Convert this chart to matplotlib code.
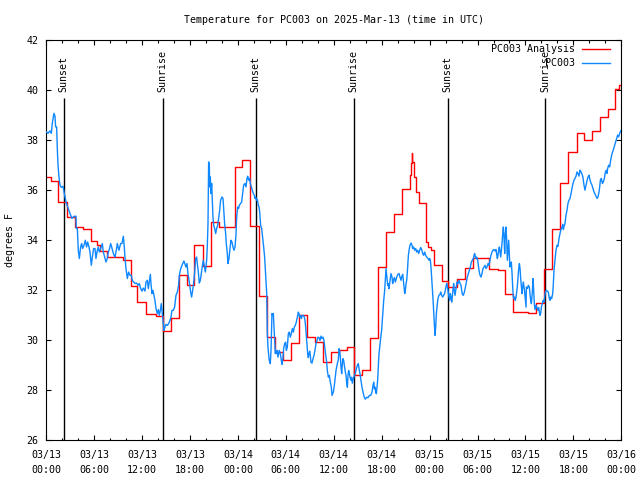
import numpy as np
import matplotlib
matplotlib.use("Agg")
import matplotlib.pyplot as plt

# all times are hours since 2025-03-13 00:00 UTC

# gridded analysis (step values)
anl_hours = [0.0, 0.63, 1.5, 2.55, 3.6, 4.64, 5.56, 6.3, 6.7, 7.6,
             9.6, 10.65, 11.4, 12.5, 13.7, 14.6, 15.6, 16.65, 17.65, 18.5,
             19.6, 20.6, 21.6, 23.6, 24.5, 25.55, 26.6, 27.6, 28.6, 29.6,
             30.6, 31.6, 32.6, 33.6, 34.6, 35.6, 36.6, 37.6, 38.5, 39.55,
             40.55, 41.5, 42.55, 43.6, 44.55, 45.5, 45.65, 45.75, 45.85, 46.0,
             46.3, 46.7, 47.5, 47.75, 48.2, 48.6, 49.5, 50.34, 51.42, 52.42,
             53.42, 55.38, 56.5, 57.42, 58.42, 60.3, 61.38, 62.3, 63.34, 64.38,
             65.34, 66.39, 67.39, 68.39, 69.39, 70.35, 71.27, 71.7]
anl_temps = [36.49, 36.34, 35.49, 34.91, 34.51, 34.42, 33.94, 33.78, 33.54, 33.31,
             33.21, 32.14, 31.53, 31.05, 30.94, 30.34, 30.89, 32.61, 32.18, 33.81,
             32.95, 34.69, 34.51, 36.91, 37.17, 34.54, 31.77, 30.10, 29.50, 29.18,
             29.86, 30.98, 30.12, 29.92, 29.11, 29.50, 29.61, 29.70, 28.58, 28.78,
             30.06, 32.90, 34.31, 35.03, 36.01, 36.60, 37.05, 37.45, 37.10, 36.50,
             35.90, 35.47, 33.90, 33.72, 33.60, 33.01, 32.37, 32.10, 32.42, 32.87,
             33.27, 32.85, 32.80, 31.85, 31.12, 31.08, 31.48, 32.85, 34.41, 36.27,
             37.49, 38.25, 37.98, 38.35, 38.89, 39.21, 40.01, 40.18]

# station observations
obs_hours = [
    # 03/13 00-12
    0.0, 0.05, 0.21, 0.46, 0.63, 0.76, 0.96, 1.09, 1.17, 1.3,
    1.38, 1.47, 1.59, 1.72, 1.88, 2.09, 2.3, 2.51, 2.72, 2.97,
    3.22, 3.38, 3.55, 3.72, 3.76, 3.89, 4.01, 4.14, 4.3, 4.43,
    4.55, 4.72, 4.89, 5.05, 5.18, 5.35, 5.47, 5.64, 5.77, 5.93,
    6.1, 6.22, 6.39, 6.51, 6.64, 6.81, 7.02, 7.14, 7.31, 7.48,
    7.64, 7.77, 7.93, 8.06, 8.19, 8.35, 8.48, 8.6, 8.77, 8.89,
    9.1, 9.31, 9.48, 9.65, 9.77, 9.85, 9.98, 10.15, 10.31, 10.48,
    10.65, 10.77, 10.94, 11.15, 11.32, 11.48, 11.65, 11.82, 11.98,
    # 03/13 12-24
    12.15, 12.36, 12.48, 12.65, 12.78, 12.9, 13.03, 13.11, 13.24, 13.36,
    13.49, 13.61, 13.74, 13.9, 14.03, 14.15, 14.28, 14.4, 14.49, 14.57,
    14.65, 14.74, 14.86, 14.99, 15.16, 15.32, 15.49, 15.61, 15.74, 15.91,
    16.07, 16.24, 16.41, 16.57, 16.66, 16.78, 16.91, 17.08, 17.24, 17.37,
    17.49, 17.62, 17.74, 17.87, 18.0, 18.08, 18.2, 18.33, 18.45, 18.58,
    18.7, 18.83, 18.91, 19.04, 19.16, 19.29, 19.41, 19.54, 19.66, 19.79,
    19.91, 20.0, 20.08, 20.16, 20.25, 20.29, 20.33, 20.42, 20.46, 20.54,
    20.62, 20.71, 20.79, 20.87, 20.96, 21.08, 21.21, 21.33, 21.46, 21.58,
    21.71, 21.83, 22.0, 22.13, 22.21, 22.33, 22.46, 22.54, 22.67, 22.75,
    22.88, 23.0, 23.13, 23.25, 23.38, 23.5, 23.63,
    # 03/14 00-12
    23.75, 23.84, 23.96, 24.09, 24.17, 24.34, 24.46, 24.59, 24.71, 24.88,
    25.01, 25.13, 25.22, 25.34, 25.47, 25.55, 25.67, 25.8, 25.92, 26.05,
    26.13, 26.22, 26.3, 26.43, 26.55, 26.64, 26.72, 26.84, 26.97, 27.09,
    27.22, 27.34, 27.43, 27.51, 27.6, 27.64, 27.68, 27.76, 27.89, 27.97,
    28.05, 28.14, 28.22, 28.26, 28.35, 28.43, 28.51, 28.6, 28.68, 28.76,
    28.85, 28.93, 29.01, 29.1, 29.18, 29.31, 29.43, 29.52, 29.64, 29.72,
    29.85, 29.97, 30.06, 30.18, 30.31, 30.43, 30.56, 30.68, 30.81, 30.93,
    31.06, 31.18, 31.31, 31.43, 31.56, 31.64, 31.73, 31.81, 31.94, 32.06,
    32.19, 32.31, 32.39, 32.48, 32.56, 32.64, 32.73, 32.81, 32.89, 32.98,
    33.06, 33.14, 33.27, 33.4, 33.52, 33.64, 33.77, 33.9, 34.02, 34.15,
    34.27, 34.4, 34.52, 34.65, 34.77, 34.86, 34.94, 35.02, 35.11, 35.19,
    35.32, 35.44, 35.57, 35.69, 35.78,
    # 03/14 12-24
    35.94, 36.07, 36.19, 36.28, 36.44, 36.57, 36.65, 36.74, 36.82, 36.9,
    36.99, 37.07, 37.15, 37.24, 37.32, 37.45, 37.53, 37.61, 37.7, 37.78,
    37.86, 37.95, 38.03, 38.15, 38.24, 38.32, 38.45, 38.57, 38.7, 38.82,
    38.95, 39.07, 39.2, 39.28, 39.41, 39.53, 39.66, 39.78, 39.95, 40.12,
    40.28, 40.45, 40.62, 40.78, 40.91, 41.0, 41.08, 41.16, 41.24, 41.33,
    41.41, 41.49, 41.58, 41.66, 41.79, 41.91, 41.99, 42.08, 42.16, 42.25,
    42.37, 42.45, 42.54, 42.62, 42.75, 42.83, 42.91, 43.04, 43.16, 43.29,
    43.37, 43.46, 43.58, 43.71, 43.87, 44.04, 44.17, 44.29, 44.42, 44.5,
    44.63, 44.71, 44.79, 44.88, 44.96, 45.05, 45.13, 45.21, 45.34, 45.46,
    45.55, 45.67, 45.8, 45.88, 46.0, 46.13, 46.25, 46.38, 46.5, 46.63,
    46.75, 46.88, 47.0, 47.13, 47.25, 47.38, 47.5, 47.63,
    # 03/15 00-12
    47.8, 47.92, 48.0, 48.09, 48.17, 48.25, 48.34, 48.42, 48.5, 48.59,
    48.67, 48.76, 48.84, 48.92, 49.01, 49.09, 49.17, 49.3, 49.38, 49.51,
    49.63, 49.76, 49.88, 50.01, 50.13, 50.22, 50.3, 50.38, 50.51, 50.59,
    50.68, 50.76, 50.84, 50.93, 51.01, 51.09, 51.18, 51.3, 51.43, 51.55,
    51.68, 51.81, 51.93, 52.01, 52.1, 52.22, 52.35, 52.47, 52.6, 52.72,
    52.85, 52.97, 53.1, 53.22, 53.35, 53.47, 53.56, 53.64, 53.73, 53.81,
    53.89, 54.02, 54.1, 54.18, 54.31, 54.43, 54.56, 54.68, 54.81, 54.93,
    55.06, 55.18, 55.31, 55.43, 55.56, 55.68, 55.81, 55.93, 56.06, 56.19,
    56.31, 56.39, 56.48, 56.56, 56.64, 56.73, 56.81, 56.9, 56.98, 57.06,
    57.15, 57.23, 57.31, 57.4, 57.48, 57.56, 57.65, 57.73, 57.81, 57.9,
    57.98, 58.06, 58.15, 58.23, 58.32, 58.4, 58.48, 58.57, 58.65, 58.73,
    58.82, 58.9, 58.99, 59.07, 59.15, 59.24, 59.32, 59.4, 59.49, 59.57,
    59.65, 59.74, 59.82, 59.9, 59.99, 60.07,
    # 03/15 12-24
    60.11, 60.23, 60.36, 60.48, 60.57, 60.65, 60.74, 60.86, 60.94, 61.03,
    61.11, 61.19, 61.32, 61.4, 61.49, 61.57, 61.65, 61.74, 61.82, 61.9,
    61.99, 62.11, 62.2, 62.32, 62.41, 62.49, 62.61, 62.74, 62.86, 62.99,
    63.07, 63.16, 63.28, 63.41, 63.49, 63.57, 63.69, 63.82, 63.95, 64.07,
    64.2, 64.32, 64.45, 64.57, 64.66, 64.74, 64.82, 64.95, 65.07, 65.2,
    65.32, 65.45, 65.58, 65.7, 65.83, 65.95, 66.08, 66.2, 66.33, 66.45,
    66.58, 66.7, 66.83, 66.95, 67.08, 67.2, 67.33, 67.45, 67.58, 67.7,
    67.83, 67.95, 68.08, 68.2, 68.33, 68.45, 68.58, 68.71, 68.83, 68.96,
    69.08, 69.21, 69.29, 69.38, 69.5, 69.63, 69.75, 69.88, 70.0, 70.13,
    70.21, 70.29, 70.42, 70.54, 70.67, 70.79, 70.92, 71.05, 71.17, 71.29,
    71.42, 71.54, 71.67, 71.79, 71.92, 72.0,
]
obs_temps = [
    # 03/13 00-12
    38.30, 38.31, 38.25, 38.35, 38.25, 38.67, 39.05, 38.94, 38.51, 38.51,
    37.65, 36.98, 36.51, 36.18, 36.09, 36.14, 35.78, 35.47, 35.27, 35.05,
    34.85, 34.91, 34.94, 34.94, 34.45, 34.45, 33.58, 33.25, 33.71, 33.85,
    33.65, 33.78, 33.98, 33.71, 33.91, 33.71, 33.51, 32.98, 33.31, 33.65,
    33.65, 33.25, 33.58, 33.71, 33.51, 33.65, 33.85, 33.51, 33.31, 33.11,
    33.25, 33.51, 33.65, 33.85, 33.71, 33.51, 33.38, 33.31, 33.58, 33.85,
    33.58, 33.85, 33.85, 34.14, 33.71, 33.31, 32.85, 32.45, 32.71, 32.58,
    32.58, 32.38, 32.31, 32.25, 32.27, 32.18, 32.25, 32.05, 31.95,
    # 03/13 12-24
    32.07, 31.95, 32.31, 32.38, 32.05, 32.31, 32.62, 32.25, 31.85, 31.98,
    31.78, 31.58, 31.25, 31.05, 31.21, 30.98, 31.18, 31.45, 31.15, 30.85,
    30.65, 30.38, 30.51, 30.62, 30.58, 30.65, 30.78, 30.91, 31.18, 31.18,
    31.31, 31.78, 31.91, 32.18, 32.58, 32.78, 32.91, 33.05, 33.15, 33.02,
    32.91, 33.05, 32.65, 32.38, 32.11, 31.91, 31.71, 31.98, 32.27, 32.71,
    33.25, 33.31, 33.05, 32.71, 32.27, 32.38, 32.65, 32.95, 33.18, 32.95,
    32.71, 32.91, 33.18, 33.71, 34.65, 35.98, 37.11, 36.91, 36.11, 36.51,
    35.85, 36.25, 35.58, 34.91, 34.58, 34.45, 34.25, 34.45, 34.58, 34.85,
    35.18, 35.58, 35.71, 35.65, 35.25, 34.65, 34.25, 33.85, 33.45, 33.05,
    33.25, 33.65, 33.98, 33.91, 33.71, 33.58, 33.71,
    # 03/14 00-12
    34.18, 34.91, 35.31, 35.25, 35.38, 35.45, 35.51, 35.85, 36.18, 36.25,
    36.11, 36.45, 36.54, 36.38, 36.45, 36.25, 36.11, 35.98, 35.85, 35.78,
    35.65, 35.71, 35.58, 35.61, 35.38, 35.31, 35.11, 34.58, 34.45, 34.11,
    33.71, 33.31, 32.78, 32.38, 31.85, 30.91, 30.25, 29.71, 29.25, 29.11,
    29.05, 29.58, 30.51, 31.05, 30.98, 31.05, 30.51, 29.98, 29.45, 29.58,
    29.45, 29.58, 29.31, 29.45, 29.58, 29.45, 29.18, 29.02, 29.31, 29.65,
    29.85, 29.91, 29.58, 29.71, 30.25, 30.31, 30.11, 30.25, 30.45, 30.31,
    30.51, 30.58, 30.71, 30.91, 31.11, 31.05, 30.91, 30.98, 30.85, 30.98,
    30.98, 30.91, 30.78, 30.51, 30.18, 29.85, 29.45, 29.29, 29.45, 29.55,
    29.38, 29.11, 29.07, 29.25, 29.38, 29.58, 29.85, 29.98, 30.11, 30.09,
    29.98, 30.15, 30.05, 30.11, 29.98, 29.71, 29.51, 29.31, 29.11, 28.78,
    28.51, 28.58, 28.31, 28.11, 27.78,
    # 03/14 12-24
    27.91, 28.18, 28.51, 28.78, 29.05, 29.21, 29.65, 29.58, 29.31, 28.91,
    28.65, 29.05, 29.25, 29.18, 28.98, 28.71, 28.58, 28.31, 28.11, 28.58,
    28.78, 28.65, 28.51, 28.38, 28.51, 28.27, 28.45, 28.58, 28.65, 28.85,
    28.98, 29.05, 28.78, 28.65, 28.38, 28.11, 27.91, 27.74, 27.63, 27.71,
    27.69, 27.78, 27.78, 27.91, 28.18, 28.31, 28.05, 28.11, 27.91, 27.85,
    28.11, 28.38, 28.91, 29.45, 29.85, 30.18, 30.38, 30.78, 31.18, 31.58,
    31.98, 32.38, 32.85, 32.58, 32.18, 32.25, 32.05, 32.38, 32.65, 32.51,
    32.25, 32.38, 32.49, 32.31, 32.51, 32.62, 32.65, 32.51, 32.38, 32.51,
    32.62, 32.38, 32.18, 31.85, 31.98, 32.25, 32.38, 32.71, 33.38, 33.65,
    33.78, 33.87, 33.78, 33.65, 33.71, 33.58, 33.65, 33.51, 33.58, 33.45,
    33.58, 33.69, 33.61, 33.45, 33.38, 33.51, 33.38, 33.31,
    # 03/15 00-12
    33.25, 33.18, 33.25, 33.18, 32.91, 32.51, 32.11, 31.65, 31.18, 30.65,
    30.18, 30.51, 31.05, 31.31, 31.58, 31.71, 31.78, 31.82, 31.91, 31.78,
    31.71, 31.78, 31.85, 32.05, 32.25, 32.14, 31.98, 31.78, 31.58, 31.85,
    31.71, 31.51, 31.71, 32.05, 32.25, 31.98, 31.78, 32.05, 32.31, 32.25,
    32.38, 32.25, 32.18, 31.98, 31.82, 31.78, 31.91, 32.09, 32.31, 32.51,
    32.65, 32.78, 32.91, 33.11, 33.18, 33.25, 33.38, 33.45, 33.31, 33.25,
    33.31, 33.18, 32.98, 32.78, 32.58, 32.51, 32.65, 32.85, 32.91, 32.98,
    32.85, 32.91, 33.05, 32.98, 33.18, 33.38, 33.51, 33.58, 33.61, 33.55,
    33.61, 33.45, 33.25, 33.38, 33.58, 33.71, 33.51, 33.31, 33.58, 33.85,
    34.25, 34.51, 34.11, 33.45, 34.25, 34.51, 33.98, 33.18, 33.58, 33.98,
    33.38, 32.91, 33.05, 33.11, 32.65, 32.11, 31.71, 31.65, 31.71, 31.58,
    31.71, 31.91, 32.18, 32.51, 32.85, 33.05, 32.85, 32.45, 32.11, 31.85,
    32.11, 32.31, 32.11, 31.91, 31.58, 31.31,
    # 03/15 12-24
    32.11, 32.05, 32.18, 32.11, 31.85, 31.58, 31.45, 31.91, 32.45, 31.98,
    31.45, 31.21, 31.38, 31.31, 31.25, 31.18, 31.29, 31.11, 30.98, 31.05,
    31.31, 31.45, 31.58, 31.51, 31.71, 31.91, 31.98, 31.95, 31.91, 31.65,
    31.58, 31.71, 31.65, 31.85, 32.25, 32.78, 33.18, 33.58, 33.78, 33.74,
    34.05, 34.25, 34.41, 34.51, 34.62, 34.41, 34.51, 34.65, 34.98, 35.18,
    35.45, 35.58, 35.65, 35.85, 36.05, 36.25, 36.38, 36.45, 36.54, 36.71,
    36.65, 36.54, 36.78, 36.71, 36.62, 36.49, 36.18, 35.98, 36.18, 36.35,
    36.51, 36.58, 36.38, 36.27, 36.18, 36.05, 35.91, 35.82, 35.74, 35.65,
    35.71, 35.91, 36.11, 36.38, 36.45, 36.25, 36.31, 36.45, 36.71, 36.78,
    36.65, 36.85, 36.98, 36.91, 37.18, 37.38, 37.51, 37.65, 37.78, 37.91,
    38.05, 38.18, 38.11, 38.25, 38.34, 38.38,
]
assert len(obs_hours) == len(obs_temps)
assert len(anl_hours) == len(anl_temps)

sun_hours = [2.17, 14.56, 26.21, 38.48, 50.25, 62.45]
sun_labels = ['Sunset', 'Sunrise', 'Sunset', 'Sunrise', 'Sunset', 'Sunrise']

tick_hours = list(range(0, 73, 6))
tick_labels = ['03/13\n00:00', '03/13\n06:00', '03/13\n12:00', '03/13\n18:00',
               '03/14\n00:00', '03/14\n06:00', '03/14\n12:00', '03/14\n18:00',
               '03/15\n00:00', '03/15\n06:00', '03/15\n12:00', '03/15\n18:00',
               '03/16\n00:00']

plt.rcParams['font.family'] = ['DejaVu Sans Mono']
plt.rcParams['font.size'] = 7.2

fig = plt.figure(figsize=(6.4, 4.8), dpi=100)
ax = fig.add_axes([0.0723, 0.0833, 0.8985, 0.8344])

# sunrise / sunset markers
ax.vlines(sun_hours, 26, 39.66, color='black', lw=1.0, zorder=1)
for h, lab in zip(sun_hours, sun_labels):
    ax.text(h, 39.9, lab, rotation=90, ha='center', va='bottom')

ax.step(np.append(anl_hours, 72), np.append(anl_temps, anl_temps[-1]),
        where='post', color='#ff0000', lw=1.0, zorder=2)
ax.plot(obs_hours, obs_temps, color='#0f88ff', lw=1.0, zorder=3)

# gnuplot-style key: text right-aligned, sample line on the right
ax.plot([0.932, 0.981], [0.976, 0.976], transform=ax.transAxes,
        color='#ff0000', lw=1.0)
ax.text(0.9195, 0.976, 'PC003 Analysis', transform=ax.transAxes,
        ha='right', va='center')
ax.plot([0.932, 0.981], [0.941, 0.941], transform=ax.transAxes,
        color='#0f88ff', lw=1.0)
ax.text(0.9195, 0.941, 'PC003', transform=ax.transAxes,
        ha='right', va='center')

ax.set_xlim(0, 72)
ax.set_ylim(26, 42)
ax.set_xticks(tick_hours)
ax.set_xticklabels(tick_labels, linespacing=1.6)
ax.set_xticks(np.arange(0, 73, 2), minor=True)
ax.set_yticks(range(26, 43, 2))
ax.tick_params(which='major', direction='in', top=True, right=True,
               length=3.4, width=0.8, pad=5.5)
ax.tick_params(axis='x', which='major', pad=7)
ax.tick_params(which='minor', direction='in', top=True, right=True,
               length=1.8, width=0.8)
for s in ax.spines.values():
    s.set_linewidth(0.8)

fig.text(333.7 / 640, 1 - 20 / 480,
         'Temperature for PC003 on 2025-Mar-13 (time in UTC)',
         ha='center', va='center')
fig.text(10 / 640, 0.5, 'degrees F', rotation=90, ha='center', va='center')

fig.savefig('out.png', dpi=100)
